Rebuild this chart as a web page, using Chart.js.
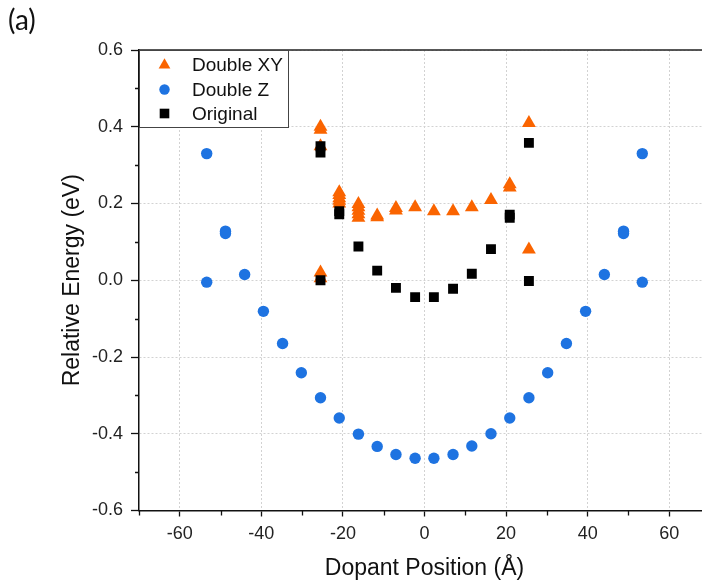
<!DOCTYPE html>
<html>
<head>
<meta charset="utf-8">
<script src="https://cdn.jsdelivr.net/npm/chart.js@4.4.1/dist/chart.umd.min.js"></script>
<style>
    html, body { margin: 0; padding: 0; background: #fff; overflow: hidden; }
    #wrap { position: relative; width: 702px; height: 583px; overflow: hidden; }
    #energyChart { position: absolute; left: 0; top: 0; }
    #panel { position: absolute; left: 8px; top: 2px; font: 28px Lato, "Open Sans", sans-serif; color: #111; }
</style>
</head>
<body>
<div id="wrap">
    <canvas id="energyChart" width="720" height="583"></canvas>
    <div id="panel">(a)</div>
</div>
<script>
// Double XY (stacked repeats at the same site are separate calculations)
const xyPos = [-25.5, -25.5, -25.5, -25.5, -25.5,
    -20.9, -20.9, -20.9, -20.9, -20.9,
    -16.2, -16.2, -16.2, -16.2, -16.2,
    -11.6, -11.6, -7.0, -7.0, -2.3, 2.3, 7.0, 11.6, 16.3, 20.9, 20.9, 25.6, 25.6];
const xyEnergy = [0.400, 0.392, 0.349, 0.020, 0.005,
    0.229, 0.222, 0.214, 0.207, 0.200,
    0.199, 0.190, 0.181, 0.172, 0.163,
    0.169, 0.164, 0.188, 0.182, 0.190, 0.180, 0.180, 0.190, 0.209, 0.250, 0.242, 0.410, 0.080];

// Double Z
const zPos = [-53.4, -53.4, -48.8, -48.8, -44.1, -39.5, -34.8, -30.2, -25.5, -20.9, -16.2, -11.6, -7.0, -2.3,
    2.3, 7.0, 11.6, 16.3, 20.9, 25.6, 30.2, 34.8, 39.5, 44.1, 48.8, 48.8, 53.4, 53.4];
const zEnergy = [0.330, -0.005, 0.128, 0.122, 0.015, -0.081, -0.165, -0.241, -0.306, -0.359, -0.401, -0.433, -0.454, -0.464,
    -0.464, -0.454, -0.432, -0.400, -0.359, -0.306, -0.241, -0.165, -0.081, 0.015, 0.128, 0.122, 0.330, -0.005];

// Original
const origPos = [-25.5, -25.5, -25.5, -20.9, -20.9, -16.2, -11.6, -7.0, -2.3, 2.3, 7.0, 11.6, 16.3, 20.9, 20.9, 25.6, 25.6];
const origEnergy = [0.349, 0.333, 0.000, 0.180, 0.172, 0.088, 0.025, -0.020, -0.044, -0.044, -0.022, 0.017, 0.081, 0.171, 0.163, 0.358, -0.002];

// Axis ticks
const xMajorTicks = [-60, -40, -20, 0, 20, 40, 60];
const xMinorTicks = [-70, -50, -30, -10, 10, 30, 50, 70];
const yMajorTicks = [-0.6, -0.4, -0.2, 0.0, 0.2, 0.4, 0.6];
const yMinorTicks = [-0.5, -0.3, -0.1, 0.1, 0.3, 0.5];

const FONT = '"Liberation Sans", Arial, sans-serif';

function toPoints(xs, ys) {
    return xs.map((x, i) => ({ x: x, y: ys[i] }));
}

// Marker shapes shared by the legend box
function drawMarker(ctx, style, x, y, r, color) {
    ctx.fillStyle = color;
    ctx.beginPath();
    if (style === "triangle") {
        const hw = r * Math.sin(Math.PI / 3);
        ctx.moveTo(x, y - r);
        ctx.lineTo(x + hw, y + r / 2);
        ctx.lineTo(x - hw, y + r / 2);
        ctx.closePath();
    } else if (style === "rect") {
        const s = r * Math.SQRT1_2;
        ctx.rect(x - s, y - s, 2 * s, 2 * s);
    } else {
        ctx.arc(x, y, r, 0, Math.PI * 2);
    }
    ctx.fill();
}

// Minor ticks, top frame line and the boxed legend in the upper left corner
const framePlugin = {
    id: "frame",
    afterDraw(chart) {
        const { ctx, chartArea, scales } = chart;
        ctx.save();
        ctx.strokeStyle = "#111";
        ctx.lineWidth = 1.3;
        ctx.beginPath();
        xMinorTicks.forEach((v) => {
            const px = Math.round(scales.x.getPixelForValue(v)) + 0.5;
            ctx.moveTo(px, chartArea.bottom);
            ctx.lineTo(px, chartArea.bottom + 5);
        });
        yMinorTicks.forEach((v) => {
            const py = Math.round(scales.y.getPixelForValue(v)) + 0.5;
            ctx.moveTo(chartArea.left, py);
            ctx.lineTo(chartArea.left - 4, py);
        });
        ctx.stroke();

        ctx.strokeStyle = "#222";
        ctx.lineWidth = 1.5;
        ctx.beginPath();
        ctx.moveTo(chartArea.left, chartArea.top);
        ctx.lineTo(chartArea.right, chartArea.top);
        ctx.lineTo(chartArea.right, chartArea.bottom);
        ctx.stroke();

        // legend
        const bx = chartArea.left, by = chartArea.top;
        ctx.fillStyle = "#fff";
        ctx.fillRect(bx + 1, by + 1, 148, 76);
        ctx.strokeStyle = "#444";
        ctx.lineWidth = 1;
        ctx.strokeRect(bx + 0.5, by + 0.5, 149, 77);
        const rows = [15, 39.5, 63.5];
        const sizes = [6.8, 5.2, 6.8];
        chart.data.datasets.forEach((ds, i) => {
            drawMarker(ctx, ds.pointStyle, bx + 25.5, by + rows[i], sizes[i], ds.backgroundColor);
            ctx.fillStyle = "#111";
            ctx.font = "19px " + FONT;
            ctx.textBaseline = "middle";
            ctx.textAlign = "left";
            ctx.fillText(ds.label, bx + 53, by + rows[i] + 1);
        });
        ctx.restore();
    },
};

const ctx = document.getElementById("energyChart").getContext("2d");
new Chart(ctx, {
    type: "scatter",
    data: {
        datasets: [
            {
                label: "Double XY",
                data: toPoints(xyPos, xyEnergy),
                pointStyle: "triangle",
                backgroundColor: "#fa6400",
                borderWidth: 0,
                pointRadius: 8,
                order: 2,
            },
            {
                label: "Double Z",
                data: toPoints(zPos, zEnergy),
                pointStyle: "circle",
                backgroundColor: "#1e73e1",
                borderWidth: 0,
                pointRadius: 5.7,
                order: 1,
            },
            {
                label: "Original",
                data: toPoints(origPos, origEnergy),
                pointStyle: "rect",
                backgroundColor: "#000",
                borderWidth: 0,
                pointRadius: 7,
                order: 0,
            },
        ],
    },
    options: {
        responsive: false,
        animation: false,
        devicePixelRatio: 1,
        layout: { padding: { left: 0, top: 50, right: 10, bottom: 0 } },
        plugins: {
            legend: { display: false },
            tooltip: { enabled: false },
        },
        scales: {
            x: {
                type: "linear",
                min: -70,
                max: 70,
                afterFit: (s) => { s.height = 72.5; },
                afterBuildTicks: (s) => { s.ticks = xMajorTicks.map((v) => ({ value: v })); },
                ticks: {
                    font: { family: FONT, size: 18 },
                    color: "#222",
                    padding: 7,
                    maxRotation: 0,
                    autoSkip: false,
                },
                grid: { color: "#d2d2d2", lineWidth: 1, tickColor: "#111", tickLength: 6, tickWidth: 1.3 },
                border: { color: "#111", width: 1.5, dash: [2, 2] },
                title: {
                    display: true,
                    text: "Dopant Position (Å)",
                    font: { family: FONT, size: 23 },
                    color: "#111",
                    padding: { top: 0, bottom: 1 },
                },
            },
            y: {
                type: "linear",
                min: -0.6,
                max: 0.6,
                afterFit: (s) => { s.width = 139; },
                afterBuildTicks: (s) => { s.ticks = yMajorTicks.map((v) => ({ value: v })); },
                ticks: {
                    font: { family: FONT, size: 18 },
                    color: "#222",
                    padding: 8,
                    callback: (v) => v.toFixed(1),
                },
                grid: { color: "#d2d2d2", lineWidth: 1, tickColor: "#111", tickLength: 8, tickWidth: 1.3 },
                border: { color: "#111", width: 1.5, dash: [2, 2] },
                title: {
                    display: true,
                    text: "Relative Energy (eV)",
                    font: { family: FONT, size: 23 },
                    color: "#111",
                    padding: { top: 59, bottom: 0 },
                },
            },
        },
    },
    plugins: [framePlugin],
});
</script>
</body>
</html>
